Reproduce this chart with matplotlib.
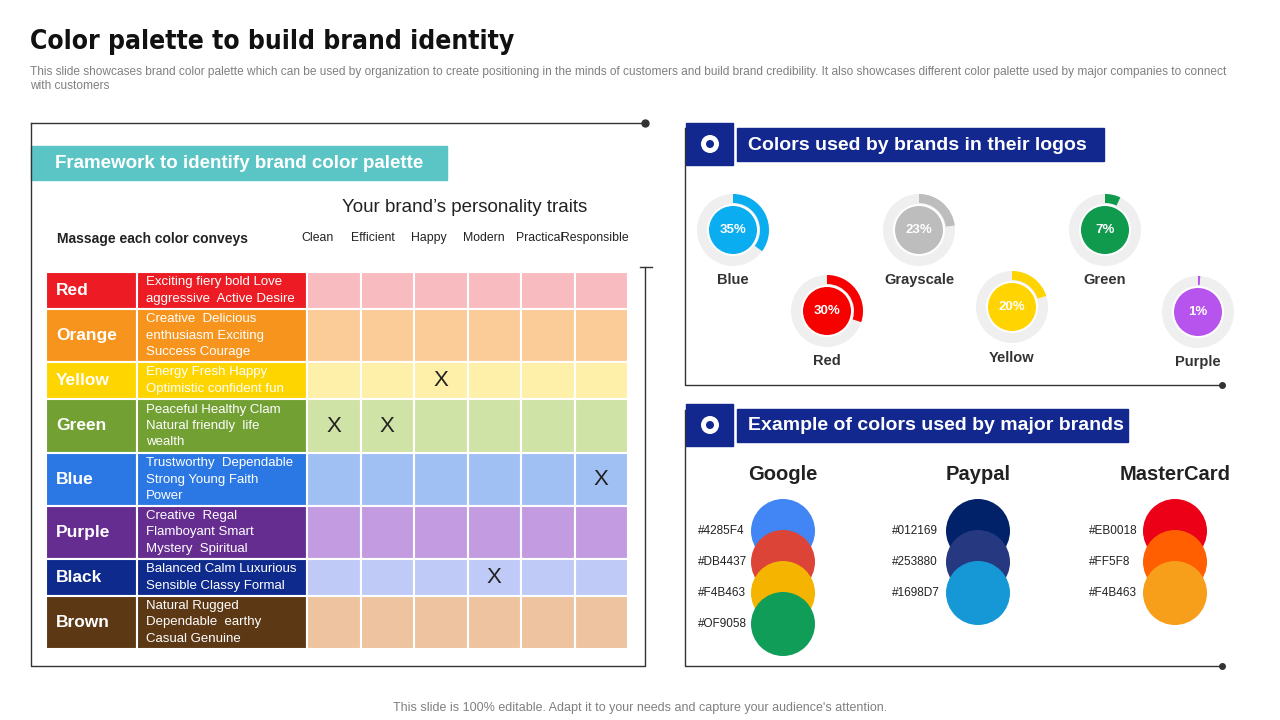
import matplotlib
matplotlib.use("Agg")
import matplotlib.pyplot as plt
from matplotlib.patches import Rectangle, Circle, Wedge

plt.rcParams["font.family"] = "Liberation Sans"

# ---- data ----
color_names = ["Red", "Orange", "Yellow", "Green", "Blue", "Purple", "Black", "Brown"]
descriptions = [
    "Exciting fiery bold Love\naggressive  Active Desire",
    "Creative  Delicious\nenthusiasm Exciting\nSuccess Courage",
    "Energy Fresh Happy\nOptimistic confident fun",
    "Peaceful Healthy Clam\nNatural friendly  life\nwealth",
    "Trustworthy  Dependable\nStrong Young Faith\nPower",
    "Creative  Regal\nFlamboyant Smart\nMystery  Spiritual",
    "Balanced Calm Luxurious\nSensible Classy Formal",
    "Natural Rugged\nDependable  earthy\nCasual Genuine",
]
dark_colors = ["#ED1C24", "#F7941D", "#FFD500", "#72A033", "#2B78E4", "#662D91", "#0E2A8C", "#5C3814"]
light_colors = ["#F8BBC0", "#FBCB98", "#FEF0A8", "#CFE3A6", "#A0C0F4", "#C39BE0", "#BFCBF6", "#EDC49F"]
traits = ["Clean", "Efficient", "Happy", "Modern", "Practical", "Responsible"]
row_edges = [272, 309, 362, 399, 453, 506, 559, 596, 649]
x_marks = [(2, 2), (3, 0), (3, 1), (4, 5), (6, 3)]  # (row, trait)

logo_labels = ["Blue", "Red", "Grayscale", "Yellow", "Green", "Purple"]
logo_pct = [35, 30, 23, 20, 7, 1]
logo_colors = ["#0AADEF", "#F70000", "#BDBDBD", "#FFD400", "#109A4E", "#B754EE"]

brands = ["Google", "Paypal", "MasterCard"]
brand_hex = [["#4285F4", "#DB4437", "#F4B463", "#OF9058"],
             ["#012169", "#253880", "#1698D7"],
             ["#EB0018", "#FF5F8", "#F4B463"]]
brand_fill = [["#4285F4", "#DB4437", "#F4B400", "#0F9D58"],
              ["#012169", "#253880", "#1698D7"],
              ["#EB0018", "#FF5F00", "#F79E1B"]]

NAVY = "#12288E"
TEAL = "#5BC5C5"

fig = plt.figure(figsize=(12.8, 7.2), dpi=100)
ax = fig.add_axes([0, 0, 1, 1])
ax.set_xlim(0, 1280)
ax.set_ylim(720, 0)
ax.axis("off")

# title
ax.text(30, 42, "Color palette to build brand identity", fontsize=19, fontweight="bold",
        family="DejaVu Sans", fontstretch="condensed", color="#111111", va="center")
ax.text(30, 79, "This slide showcases brand color palette which can be used by organization to create positioning in the minds of customers and build brand credibility. It also showcases different color palette used by major companies to connect\nwith customers",
        fontsize=8.6, color="#808080", va="center", linespacing=1.3)
ax.text(640, 708, "This slide is 100% editable. Adapt it to your needs and capture your audience's attention.",
        fontsize=9, color="#808080", ha="center", va="center")

# ---- left panel ----
ax.plot([31, 645], [123, 123], color="#333333", lw=1)
ax.plot([31, 31, 645, 645], [123, 666, 666, 267], color="#333333", lw=1)
ax.plot([640, 652], [267, 267], color="#333333", lw=1)
ax.plot(645, 123, "o", color="#333333", ms=5)
ax.add_patch(Rectangle((31, 146), 416, 34, color=TEAL))
ax.text(55, 163, "Framework to identify brand color palette", fontsize=13.5, fontweight="bold",
        color="white", va="center")
ax.text(465, 208, "Your brand\u2019s personality traits", fontsize=13.5, color="#222222", ha="center", va="center")
ax.text(57, 239, "Massage each color conveys", fontsize=10, fontweight="bold", color="#222222", va="center")

col_x0, col_w = 307, (628 - 307) / 6
for j, t in enumerate(traits):
    ax.text(col_x0 + col_w * (j + 0.5) - 16 + 2 * j, 238, t, fontsize=8.8, color="#222222",
            ha="center", va="center")

for i, name in enumerate(color_names):
    y0, y1 = row_edges[i], row_edges[i + 1]
    h = y1 - y0
    ym = (y0 + y1) / 2
    ax.add_patch(Rectangle((46, y0), 91, h, color=dark_colors[i], ec="white", lw=1.5))
    ax.add_patch(Rectangle((137, y0), 170, h, color=dark_colors[i], ec="white", lw=1.5))
    ax.text(56, ym, name, fontsize=12.5, fontweight="bold", color="white", va="center")
    ax.text(146, ym, descriptions[i], fontsize=9.5, color="white", va="center", linespacing=1.45)
    for j in range(6):
        ax.add_patch(Rectangle((col_x0 + col_w * j, y0), col_w, h, fc=light_colors[i], ec="white", lw=1.5))
for r, c in x_marks:
    ax.text(col_x0 + col_w * (c + 0.5), (row_edges[r] + row_edges[r + 1]) / 2, "X",
            fontsize=16, color="#222222", ha="center", va="center")


def header(y, text, w):
    ax.add_patch(Rectangle((686, y - 5), 47, 42, color=NAVY))
    ax.add_patch(Circle((710, y + 16), 9, fc="white", ec="none"))
    ax.add_patch(Circle((710, y + 16), 4, fc=NAVY, ec="none"))
    ax.add_patch(Rectangle((737, y), w, 33, color=NAVY))
    ax.text(748, y + 17, text, fontsize=14, fontweight="bold", color="white", va="center")


# ---- right top panel ----
ax.plot([685, 685, 1222], [128, 385, 385], color="#333333", lw=1)
ax.plot(1222, 385, "o", color="#333333", ms=4)
header(128, "Colors used by brands in their logos", 367)
centers = [(733, 230), (827, 311), (919, 230), (1012, 307), (1105, 230), (1198, 312)]
label_y = [280, 361, 280, 358, 280, 362]
for (cx, cy), lab, p, col, ly in zip(centers, logo_labels, logo_pct, logo_colors, label_y):
    ax.add_patch(Circle((cx, cy), 36, fc="#EFEFEF", ec="none"))
    # y axis is inverted: -90 is the top, increasing angle runs clockwise on screen
    ax.add_patch(Wedge((cx, cy), 36, -90, -90 + 360 * p / 100, width=9, fc=col, ec="none"))
    ax.add_patch(Circle((cx, cy), 26, fc="white", ec="none"))
    ax.add_patch(Circle((cx, cy), 24, fc=col, ec="none"))
    ax.text(cx, cy, f"{p}%", fontsize=9.5, fontweight="bold", color="white", ha="center", va="center")
    ax.text(cx, ly, lab, fontsize=10.5, fontweight="bold", color="#333333", ha="center", va="center")

# ---- right bottom panel ----
ax.plot([685, 685, 1222], [410, 666, 666], color="#333333", lw=1)
ax.plot(1222, 666, "o", color="#333333", ms=4)
header(409, "Example of colors used by major brands", 391)
brand_x = [783, 978, 1175]
hex_x = [698, 892, 1089]
circle_y = [531, 562, 593, 624]
for bx, hx, b, hexes, fills in zip(brand_x, hex_x, brands, brand_hex, brand_fill):
    ax.text(bx, 475, b, fontsize=14.5, fontweight="bold", color="#222222", ha="center", va="center")
    for k, (hx_lab, fc) in enumerate(zip(hexes, fills)):
        ax.add_patch(Circle((bx, circle_y[k]), 32, fc=fc, ec="none"))
        ax.text(hx, circle_y[k], hx_lab, fontsize=8.5, color="#222222", va="center", zorder=3)

fig.savefig("out.png", dpi=100)
